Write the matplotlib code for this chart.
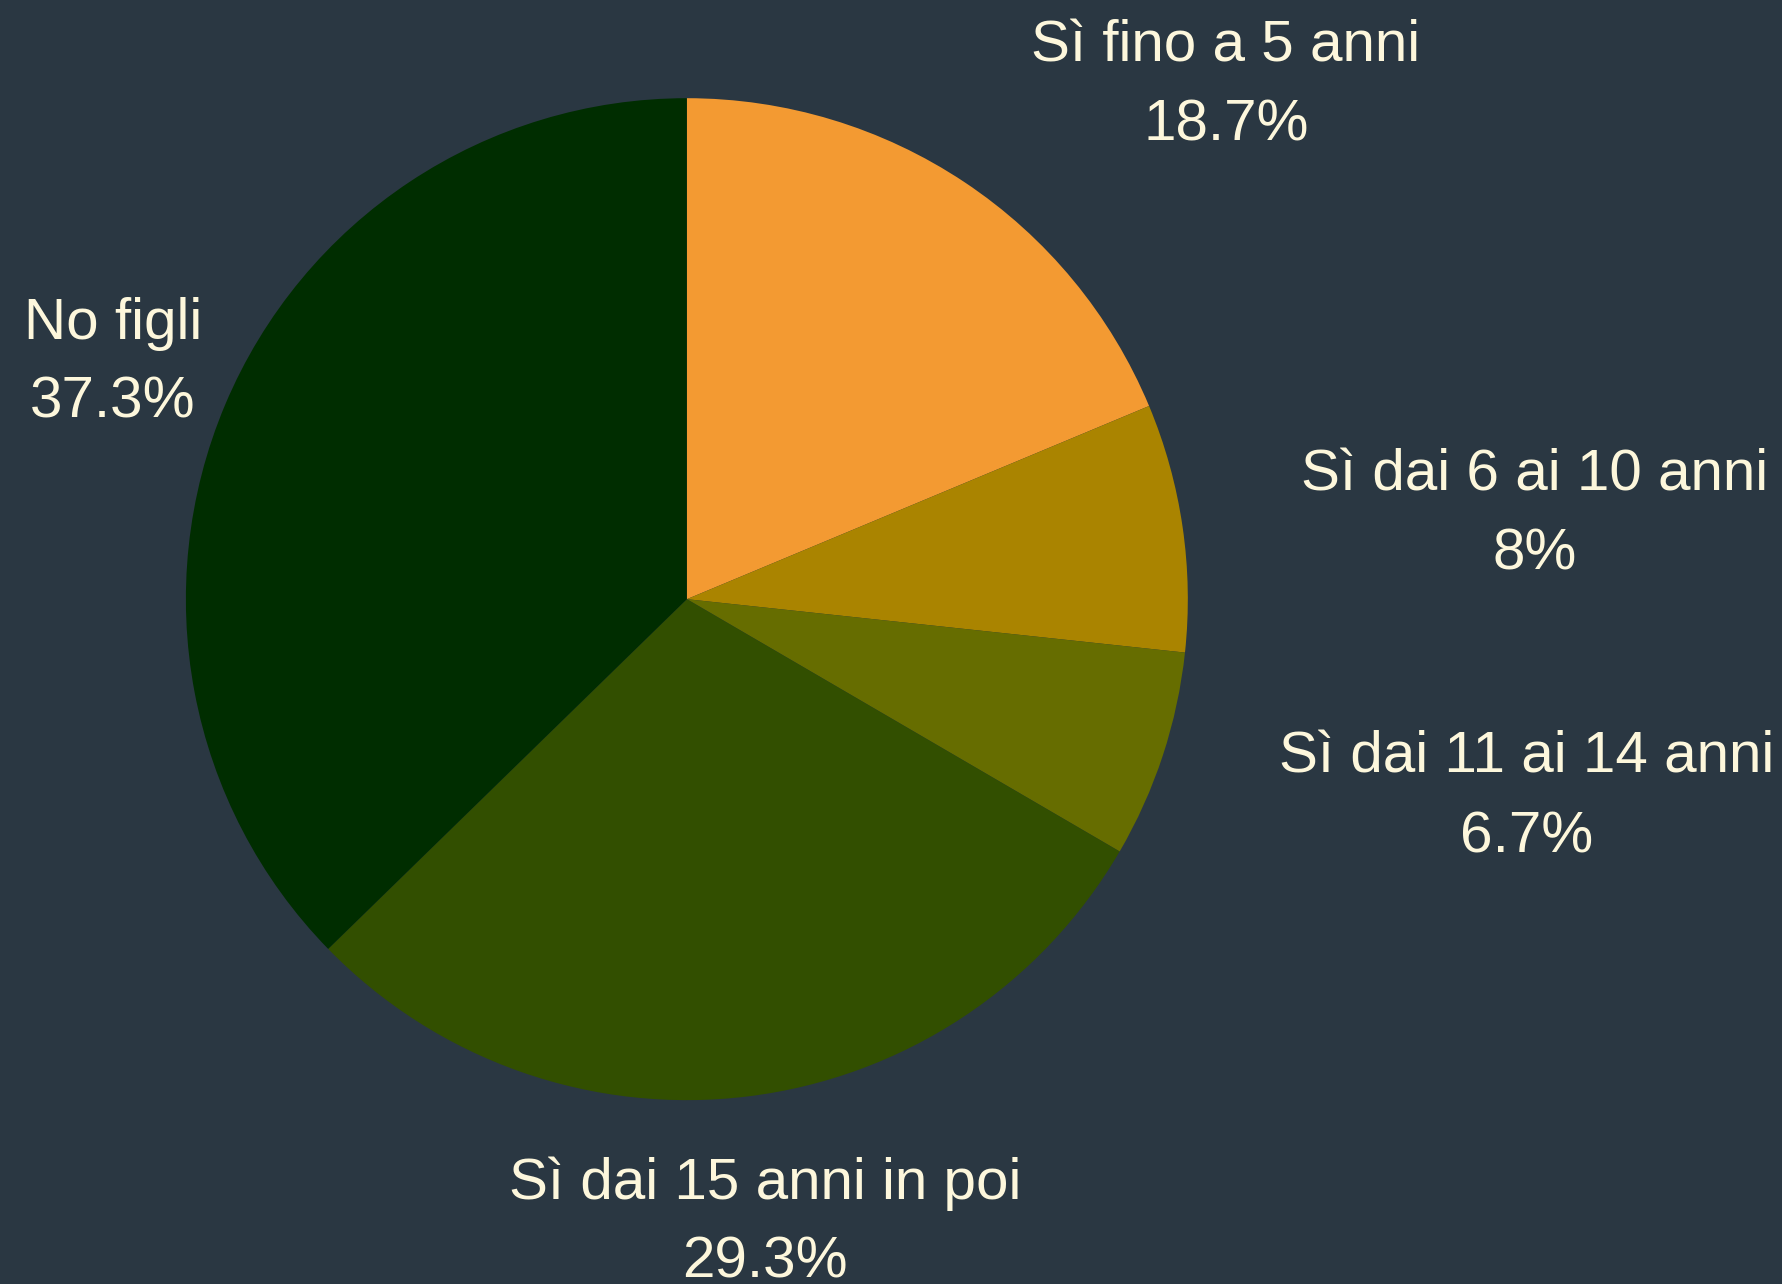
import matplotlib.pyplot as plt

categorie = ['Sì fino a 5 anni', 'Sì dai 6 ai 10 anni', 'Sì dai 11 ai 14 anni',
             'Sì dai 15 anni in poi', 'No figli']
percentuali = [18.7, 8, 6.7, 29.3, 37.3]
etichette_pct = ['18.7%', '8%', '6.7%', '29.3%', '37.3%']
colori = ['#f39a32', '#aa8400', '#666d00', '#324f00', '#002d00']

# posizione (centro del blocco di testo) in unità del raggio
pos_etichette = [(1.076, 1.024), (1.693, 0.168), (1.677, -0.396),
                 (0.156, -1.246), (-1.146, 0.471)]

sfondo = '#2a3742'
testo = '#fdf7dc'
plt.rcParams['font.family'] = ['Liberation Sans', 'DejaVu Sans']

fig = plt.figure(figsize=(17.83, 12.84), dpi=100, facecolor=sfondo)
ax = fig.add_axes([0, 0, 1, 1])
ax.set_facecolor(sfondo)

ax.pie(percentuali, colors=colori, startangle=90, counterclock=False,
       radius=1, center=(0, 0), wedgeprops=dict(linewidth=0))

for nome, pct, (x, y) in zip(categorie, etichette_pct, pos_etichette):
    ax.text(x, y + 0.079, nome, ha='center', va='center', fontsize=42, color=testo)
    ax.text(x, y - 0.079, pct, ha='center', va='center', fontsize=42, color=testo)

ax.set_xlim(-1.371, 2.188)
ax.set_ylim(-1.367, 1.196)
ax.set_aspect('equal')
ax.axis('off')

fig.savefig('out.png', dpi=100, facecolor=sfondo)
